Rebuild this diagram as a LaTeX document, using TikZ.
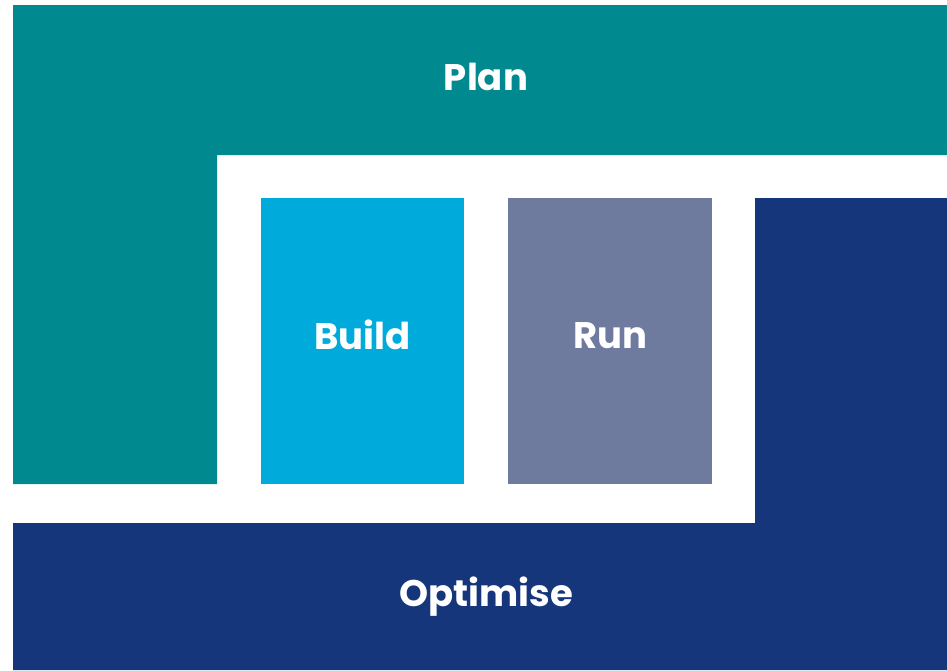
\documentclass[tikz,border=0pt]{standalone}
\usepackage{fontspec}
\setmainfont{Poppins}
\definecolor{planc}{HTML}{008A8F}
\definecolor{buildc}{HTML}{00AADB}
\definecolor{runc}{HTML}{6E7B9E}
\definecolor{optc}{HTML}{15367B}
\begin{document}
\begin{tikzpicture}[x=1pt,y=-1pt,
  lbl/.style={text=white,font=\fontsize{37}{44}\selectfont\bfseries,inner sep=0pt},
  box/.style={rectangle,inner sep=0pt,anchor=north west}]
\useasboundingbox (0,0) rectangle (947,670);
% Plan L-shape
\fill[planc] (13,5) -- (947,5) -- (947,155) -- (217,155) -- (217,484) -- (13,484) -- cycle;
% Optimise L-shape
\fill[optc] (755,198) -- (947,198) -- (947,670) -- (13,670) -- (13,523) -- (755,523) -- cycle;
\node[box,fill=buildc,minimum width=203pt,minimum height=286pt] (build) at (261,198) {};
\node[box,fill=runc,minimum width=204pt,minimum height=286pt] (run) at (508,198) {};
\node[lbl] (plan) at (486,77) {Plan};
\node[lbl] at ([yshift=6pt]build.center) {Build};
\node[lbl] at ([yshift=6pt]run.center) {Run};
\node[lbl] (optimise) at (486,597) {Optimise};
\end{tikzpicture}
\end{document}
